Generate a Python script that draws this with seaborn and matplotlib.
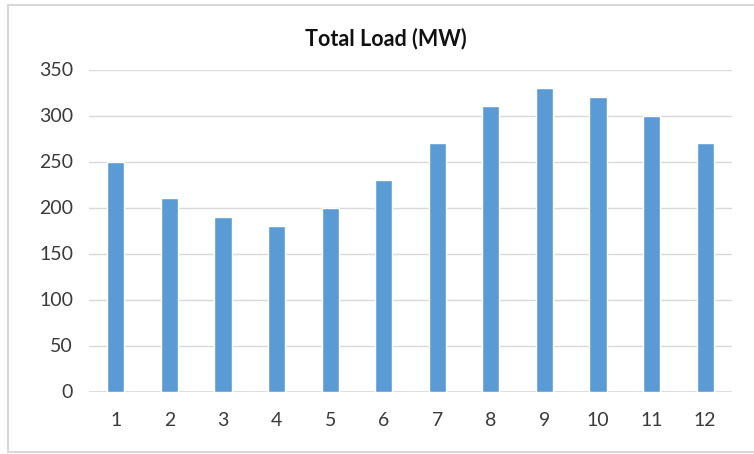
import matplotlib
matplotlib.use("Agg")
import matplotlib.pyplot as plt
import pandas as pd
import seaborn as sns

months = [str(i) for i in range(1, 13)]
load_mw = [250, 210, 190, 180, 200, 230, 270, 310, 330, 320, 300, 270]
y_ticks = [0, 50, 100, 150, 200, 250, 300, 350]

sns.set_theme(style="white")
plt.rcParams["font.family"] = ["Lato", "DejaVu Sans"]

df = pd.DataFrame({"month": months, "load": load_mw})

W, H = 754, 454
fig = plt.figure(figsize=(W / 100, H / 100), dpi=100)

# outer chart frame (left, top and bottom edges)
frame_kw = dict(transform=fig.transFigure, color="#d9d9d9", linewidth=1.5)
fig.add_artist(plt.Line2D([8 / W, 8 / W], [2 / H, 449 / H], **frame_kw))
fig.add_artist(plt.Line2D([8 / W, 1.0], [449 / H, 449 / H], **frame_kw))
fig.add_artist(plt.Line2D([8 / W, 1.0], [2 / H, 2 / H], **frame_kw))

ax = fig.add_axes([89 / W, 62.5 / H, 643 / W, 322 / H])
sns.barplot(data=df, x="month", y="load", color="#5B9BD5", width=0.32,
            saturation=1, ax=ax)

ax.set_ylim(0, 350)
ax.set_yticks(y_ticks)
ax.set_xlim(-0.5, 11.5)
ax.yaxis.grid(True, color="#d9d9d9", linewidth=1)
ax.set_axisbelow(True)
for s in ax.spines.values():
    s.set_visible(False)
ax.axhline(0, color="#d9d9d9", linewidth=1.2, zorder=0)
ax.set_xlabel("")
ax.set_ylabel("")
ax.tick_params(axis="both", length=0, labelsize=14, labelcolor="#3a3a3a")
ax.tick_params(axis="x", pad=15)
ax.tick_params(axis="y", pad=11.5)

fig.text(386 / W, 1 - 39 / H, "Total Load (MW)", ha="center", va="center",
         fontsize=15.5, fontweight="bold", color="#111111")

fig.savefig("out.png", dpi=100, facecolor="white")
